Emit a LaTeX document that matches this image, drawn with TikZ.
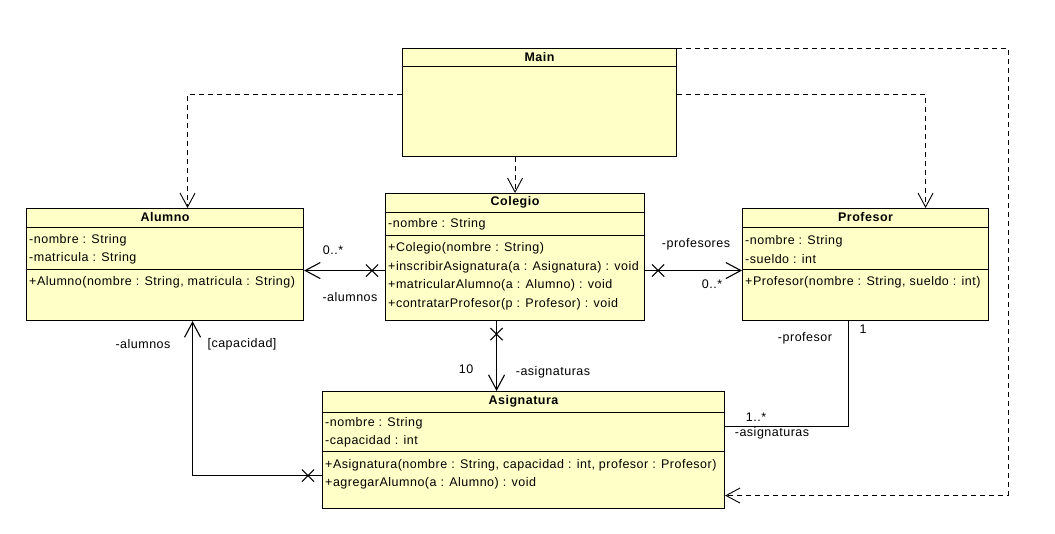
\documentclass[tikz,border=0pt]{standalone}
\usepackage{fontspec}
\setmainfont{Liberation Sans}
\newfontfamily\umlfont[LetterSpace=4]{Liberation Sans}
\usetikzlibrary{positioning,arrows.meta,calc,shapes.misc}
\definecolor{umlfill}{HTML}{FFFFC8}

\begin{document}
\begin{tikzpicture}[
    x=1pt, y=-1pt,
    cls/.style={draw, line width=1.1pt, fill=umlfill, anchor=north west, inner sep=0pt},
    title/.style={inner sep=0pt, font=\umlfont\fontsize{12.5}{14}\selectfont\bfseries},
    member/.style={anchor=west, inner sep=0pt, align=left, font=\umlfont\fontsize{12.5}{18.5}\selectfont},
    lbl/.style={inner sep=0pt, font=\umlfont\fontsize{12.5}{14}\selectfont},
    sep/.style={line width=1pt},
    dep/.style={-{Straight Barb[length=14pt, width=15pt]}, line width=0.9pt, dash pattern=on 5pt off 4pt},
    nav/.style={-{Straight Barb[length=15pt, width=16pt]}, line width=1.1pt},
    plain/.style={line width=1.1pt},
    xmark/.style={cross out, draw, line width=1.1pt, minimum size=11pt, inner sep=0pt}
  ]
    \useasboundingbox[fill=white] (0,0) rectangle (1055,533);

    % classes
    \node[cls, minimum width=274pt, minimum height=108pt] (main) at (402,48) {};
    \node[cls, minimum width=259pt, minimum height=127pt] (colegio) at (385,193) {};
    \node[cls, minimum width=277pt, minimum height=112pt] (alumno) at (26,208) {};
    \node[cls, minimum width=246pt, minimum height=112pt] (profesor) at (742,208) {};
    \node[cls, minimum width=402pt, minimum height=117pt] (asignatura) at (322,391) {};

    % compartments
    \draw[sep] ([yshift=-18pt]main.north west) -- ([yshift=-18pt]main.north east);
    \draw[sep] ([yshift=-19pt]colegio.north west) -- ([yshift=-19pt]colegio.north east);
    \draw[sep] ([yshift=-42pt]colegio.north west) -- ([yshift=-42pt]colegio.north east);
    \draw[sep] ([yshift=-19pt]alumno.north west) -- ([yshift=-19pt]alumno.north east);
    \draw[sep] ([yshift=-61pt]alumno.north west) -- ([yshift=-61pt]alumno.north east);
    \draw[sep] ([yshift=-19pt]profesor.north west) -- ([yshift=-19pt]profesor.north east);
    \draw[sep] ([yshift=-61pt]profesor.north west) -- ([yshift=-61pt]profesor.north east);
    \draw[sep] ([yshift=-21pt]asignatura.north west) -- ([yshift=-21pt]asignatura.north east);
    \draw[sep] ([yshift=-60pt]asignatura.north west) -- ([yshift=-60pt]asignatura.north east);

    \node[title] (mainT) at ([yshift=-9pt]main.north) {Main};
    \node[title] (colegioT) at ([yshift=-9.5pt]colegio.north) {Colegio};
    \node[title] (alumnoT) at ([yshift=-9.5pt]alumno.north) {Alumno};
    \node[title] (profesorT) at ([yshift=-9.5pt]profesor.north) {Profesor};
    \node[title] (asignaturaT) at ([yshift=-10.5pt]asignatura.north) {Asignatura};

    \node[member] (colegioA) at (388,224) {-nombre : String};
    \node[member] (colegioM) at (388,276.5) {+Colegio(nombre : String)\\+inscribirAsignatura(a : Asignatura) : void\\+matricularAlumno(a : Alumno) : void\\+contratarProfesor(p : Profesor) : void};
    \node[member] (alumnoA) at (29,249.5) {-nombre : String\\-matricula : String};
    \node[member] (alumnoM) at (29,282) {+Alumno(nombre : String, matricula : String)};
    \node[member] (profesorA) at (745,249.5) {-nombre : String\\-sueldo : int};
    \node[member] (profesorM) at (745,282) {+Profesor(nombre : String, sueldo : int)};
    \node[member] (asignaturaA) at (325,432.5) {-nombre : String\\-capacidad : int};
    \node[member] (asignaturaM) at (325,474.5) {+Asignatura(nombre : String, capacidad : int, profesor : Profesor)\\+agregarAlumno(a : Alumno) : void};

    % dependencies from Main
    \coordinate (turn) at (1008,48);
    \draw[dep] ([yshift=8pt]main.west) -| ([xshift=22.5pt]alumno.north);
    \draw[dep] ([yshift=8pt]main.east) -| ([xshift=60pt]profesor.north);
    \draw[dep] (colegio.north |- main.south) -- (colegio.north);
    \draw[dep] (main.north east) -- (turn) |- ([yshift=-45.5pt]asignatura.east);

    % associations
    \draw[nav] ([yshift=-13.5pt]colegio.west) -- ([yshift=-6pt]alumno.east);
    \node[xmark] (xalumnos) at ([xshift=-13pt,yshift=-13.5pt]colegio.west) {};
    \draw[nav] ([yshift=-13.5pt]colegio.east) -- ([yshift=-6pt]profesor.west);
    \node[xmark] (xprofesores) at ([xshift=13pt,yshift=-13.5pt]colegio.east) {};
    \draw[nav] ([xshift=-18.5pt]colegio.south) -- ([xshift=-27pt]asignatura.north);
    \node[xmark] (xasignaturas) at ([xshift=-18.5pt,yshift=-13pt]colegio.south) {};
    \draw[nav] ([yshift=-25.5pt]asignatura.west) -| ([xshift=27.5pt]alumno.south);
    \node[xmark] (xcapacidad) at ([xshift=-14pt,yshift=-25.5pt]asignatura.west) {};
    \draw[plain] ([xshift=-17pt]profesor.south) |- ([yshift=23.5pt]asignatura.east);

    % role names and multiplicities
    \node[lbl] (m1) at (333,250) {0..*};
    \node[lbl] (r1) at (350,297) {-alumnos};
    \node[lbl] (r2) at (696,244) {-profesores};
    \node[lbl] (m2) at (712,284) {0..*};
    \node[lbl] (m3) at (466,369) {10};
    \node[lbl] (r3) at (553,372) {-asignaturas};
    \node[lbl] (r4) at (143,344) {-alumnos};
    \node[lbl] (g4) at (242,344) {[capacidad]};
    \node[lbl] (m5) at (863,329) {1};
    \node[lbl] (r5) at (805,338) {-profesor};
    \node[lbl] (m6) at (756,417) {1..*};
    \node[lbl] (r6) at (772,433) {-asignaturas};
\end{tikzpicture}
\end{document}
